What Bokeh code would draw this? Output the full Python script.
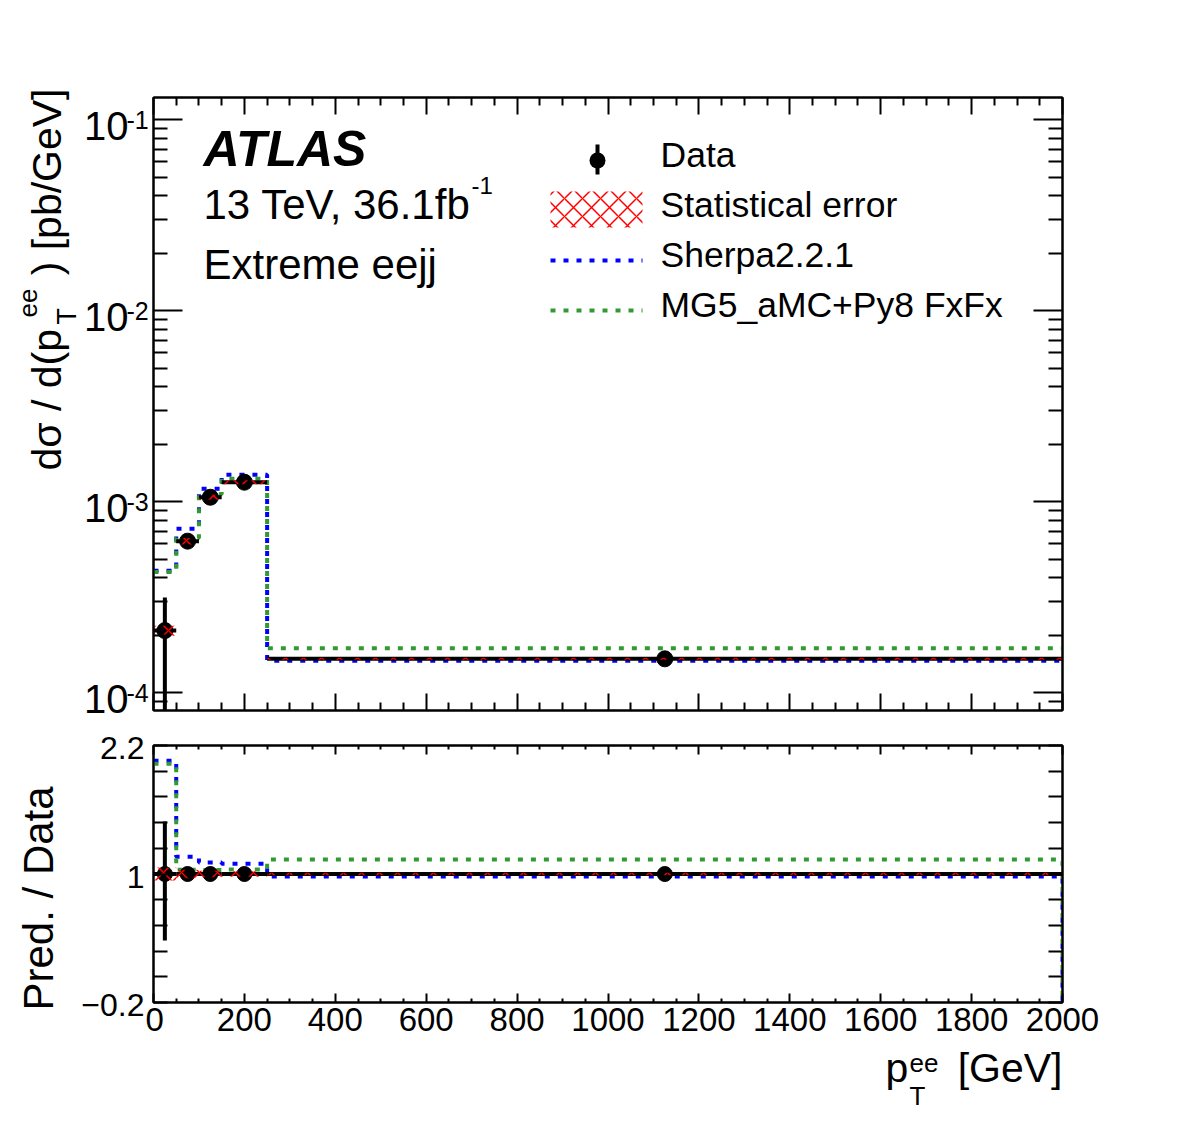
import math
from bokeh.plotting import figure
from bokeh.layouts import column, row
from bokeh.models import (FixedTicker, LinearAxis, LogAxis, Label, BoxAnnotation,
                          Arrow, Range1d)
from bokeh.embed import file_html
from bokeh.resources import INLINE

FONT = "Liberation Sans"
BLUE = "#0000ff"
GREEN = "#339933"
RED = "#ff0000"
DASH = "5 8"

# ---- binning and cross sections (pb/GeV) ----
bin_edges = [0, 50, 100, 150, 250, 2000]
data_xsec = [2.11e-4, 6.20e-4, 1.053e-3, 1.262e-3, 1.501e-4]
data_err_up = [0.49, 0.05, 0.04, 0.04, 0.04]      # relative total uncertainty (up)
data_err_dn = [0.62, 0.05, 0.04, 0.04, 0.04]      # relative total uncertainty (down)
stat_err = [0.06, 0.04, 0.03, 0.025, 0.012]       # relative statistical uncertainty
sherpa_xsec = [4.34e-4, 7.20e-4, 1.165e-3, 1.382e-3, 1.465e-4]
mg5_xsec = [4.28e-4, 6.45e-4, 1.092e-3, 1.315e-3, 1.703e-4]

# ---- ticks and labels ----
x_ticks = [0, 200, 400, 600, 800, 1000, 1200, 1400, 1600, 1800, 2000]
x_minor_ticks = [v for v in range(50, 2000, 50) if v % 200]
y_decades = [1e-4, 1e-3, 1e-2, 1e-1]
y_decade_exponents = ["-4", "-3", "-2", "-1"]
y_minor_ticks = [m * d for d in [1e-5, 1e-4, 1e-3, 1e-2, 1e-1] for m in range(2, 10)]
ratio_ticks = [round(-0.2 + 0.24 * k, 2) for k in range(11)]
ratio_labelled = [-0.2, 1.0, 2.2]
ratio_label_text = ["\u22120.2", "1", "2.2"]
legend_labels = ["Data", "Statistical error", "Sherpa2.2.1", "MG5_aMC+Py8 FxFx"]

# ---- page geometry (pixels) ----
PAGE_W, PAGE_H = 1182, 1123
FRAME_L, FRAME_R = 153, 1062
TOP_T, TOP_B = 97, 710
BOT_T, BOT_B = 745, 1002
ROW1_H = 728                       # main panel row
BOT_BORDER_T, BOT_BORDER_B = BOT_T - ROW1_H, 42
ROW2_H = BOT_BORDER_T + (BOT_B - BOT_T) + BOT_BORDER_B
ROW3_H = PAGE_H - ROW1_H - ROW2_H  # x-axis title strip
STRIP1_W, STRIP2_W = 150, 145      # left strips holding the y-axis texts
Y_MIN, Y_MAX = 8.05e-5, 0.1304
R_MIN, R_MAX = -0.2, 2.2
DESC = 0.14                        # baseline sits this fraction of the size above the box bottom

centers = [(a + b) / 2 for a, b in zip(bin_edges[:-1], bin_edges[1:])]
lefts = bin_edges[:-1]
rights = bin_edges[1:]


def step_xy(values, drop_to=None):
    xs, ys = [], []
    for lo, hi, v in zip(lefts, rights, values):
        xs += [lo, hi]
        ys += [v, v]
    if drop_to is not None:
        xs.append(bin_edges[-1])
        ys.append(drop_to)
    return xs, ys


def style_axis(ax, tick_in, minor_in, label_size=None):
    ax.major_tick_in = tick_in
    ax.major_tick_out = 0
    ax.minor_tick_in = minor_in
    ax.minor_tick_out = 0
    ax.major_tick_line_width = 2
    ax.minor_tick_line_width = 2
    ax.major_tick_line_color = "black"
    ax.minor_tick_line_color = "black"
    ax.axis_line_color = "black"
    ax.axis_line_width = 2
    if label_size is None:
        # tick marks only
        ax.major_label_text_font_size = "1px"
        ax.major_label_text_color = None
        ax.major_label_standoff = 0
    else:
        ax.major_label_text_font_size = f"{label_size}px"
        ax.major_label_text_font = FONT
        ax.major_label_text_color = "black"


def text(fig, s, x, y, size, xu="screen", yu="screen", angle=0.0, y_off=0.0,
         style="normal", **kw):
    # (x, y) is the start (or end) of the text's baseline
    drop = DESC * size
    x_off = drop if angle else 0.0
    if not angle:
        y_off -= drop
    fig.add_layout(Label(x=x, y=y, x_units=xu, y_units=yu, text=s, angle=angle,
                         x_offset=x_off, y_offset=y_off,
                         text_font=FONT, text_font_size=f"{size}px",
                         text_font_style=style, text_baseline="bottom",
                         text_color="black", **kw))


def strip(w, h, x_range, y_range, y_axis_type="linear"):
    f = figure(frame_width=w, frame_height=h, min_border=0,
               x_range=x_range, y_range=y_range, y_axis_type=y_axis_type,
               x_axis_location=None, y_axis_location=None,
               output_backend="svg", toolbar_location=None)
    f.frame_align = False
    f.grid.visible = False
    f.outline_line_color = None
    f.background_fill_color = "white"
    f.border_fill_color = "white"
    return f


# ================= main panel =================
top = figure(frame_width=FRAME_R - FRAME_L, frame_height=TOP_B - TOP_T,
             min_border_left=FRAME_L - STRIP1_W, min_border_right=PAGE_W - FRAME_R,
             min_border_top=TOP_T, min_border_bottom=ROW1_H - TOP_B,
             x_range=Range1d(0, 2000), y_range=Range1d(Y_MIN, Y_MAX),
             y_axis_type="log", output_backend="svg", toolbar_location=None)
top.frame_align = False
top.grid.visible = False
top.outline_line_color = "black"
top.outline_line_width = 2
top.outline_line_alpha = 1
top.background_fill_color = "white"
top.border_fill_color = "white"

xt = FixedTicker(ticks=x_ticks, minor_ticks=x_minor_ticks)
yt = FixedTicker(ticks=y_decades, minor_ticks=y_minor_ticks)
top.xaxis.ticker = xt
top.yaxis.ticker = yt
style_axis(top.xaxis[0], 17, 8)
style_axis(top.yaxis[0], 29, 14)
ax_top = LinearAxis(ticker=xt)
style_axis(ax_top, 17, 8)
top.add_layout(ax_top, "above")
ax_right = LogAxis(ticker=yt)
style_axis(ax_right, 29, 14)
top.add_layout(ax_right, "right")

# predictions
for vals, col in [(sherpa_xsec, BLUE), (mg5_xsec, GREEN)]:
    xs, ys = step_xy(vals)
    top.line(xs, ys, line_color=col, line_width=4, line_dash=DASH)

# data
top.segment(x0=lefts, x1=rights, y0=data_xsec, y1=data_xsec,
            line_color="black", line_width=4)
top.segment(x0=centers, x1=centers,
            y0=[v * (1 - e) for v, e in zip(data_xsec, data_err_dn)],
            y1=[v * (1 + e) for v, e in zip(data_xsec, data_err_up)],
            line_color="black", line_width=4)
top.scatter(centers, data_xsec, size=16, marker="circle",
            fill_color="black", line_color="black")

# statistical band
top.quad(left=lefts, right=rights,
         bottom=[v * (1 - e) for v, e in zip(data_xsec, stat_err)],
         top=[v * (1 + e) for v, e in zip(data_xsec, stat_err)],
         fill_color=None, line_color=None,
         hatch_pattern="x", hatch_color=RED, hatch_scale=18, hatch_weight=1.5)


def fx(px):
    return px - FRAME_L


def fy1(py):
    return TOP_B - py


# experiment labels
text(top, "ATLAS", fx(203), fy1(169), 50, style="bold italic")
text(top, "13 TeV, 36.1fb", fx(203), fy1(222), 42)
text(top, "-1", fx(471), fy1(190), 24)
text(top, "Extreme eejj", fx(203), fy1(282), 42)

# legend
top.add_layout(BoxAnnotation(left=fx(589), right=fx(605), bottom=fy1(168), top=fy1(152),
                             left_units="screen", right_units="screen",
                             bottom_units="screen", top_units="screen",
                             fill_color="black", fill_alpha=1, line_color=None,
                             border_radius=8))
top.add_layout(Arrow(x_start=fx(597), y_start=fy1(174), x_end=fx(597), y_end=fy1(144),
                     start_units="screen", end_units="screen", end=None,
                     line_color="black", line_width=4))
top.add_layout(BoxAnnotation(left=fx(550), right=fx(642), bottom=fy1(227), top=fy1(191),
                             left_units="screen", right_units="screen",
                             bottom_units="screen", top_units="screen",
                             fill_color=None, line_color=None,
                             hatch_pattern="x", hatch_color=RED, hatch_scale=18,
                             hatch_weight=1.5))
for yrow, col in [(260, BLUE), (310, GREEN)]:
    top.add_layout(Arrow(x_start=fx(550), y_start=fy1(yrow), x_end=fx(642), y_end=fy1(yrow),
                         start_units="screen", end_units="screen", end=None,
                         line_color=col, line_width=4, line_dash=DASH))
for lab, base in zip(legend_labels, [170, 220, 270, 320]):
    text(top, lab, fx(660), fy1(base), 35.5)

# ---- left strip of the main panel: decade labels and y title ----
lg_top, lg_bot = math.log10(Y_MAX), math.log10(Y_MIN)


def lg_at(py):
    return lg_top - (py - TOP_T) / (TOP_B - TOP_T) * (lg_top - lg_bot)


left1 = strip(STRIP1_W, ROW1_H, Range1d(0, STRIP1_W),
              Range1d(10 ** lg_at(ROW1_H), 10 ** lg_at(0)), y_axis_type="log")
for d, e in zip(y_decades, y_decade_exponents):
    text(left1, "10", 128, d, 40, yu="data", text_align="right", y_off=-15)
    text(left1, e, 126, d, 25, yu="data", text_align="left", y_off=-6)


def sy1(py):
    return ROW1_H - py


text(left1, "d\u03c3 / d(p", 64, sy1(470), 41, angle=math.pi / 2, text_align="left")
text(left1, "T", 78, sy1(324), 27, angle=math.pi / 2, text_align="left")
text(left1, "ee", 33, sy1(317), 26, angle=math.pi / 2, text_align="left")
text(left1, ") [pb/GeV]", 64, sy1(88), 41, angle=math.pi / 2, text_align="right")

# ================= ratio panel =================
bot = figure(frame_width=FRAME_R - FRAME_L, frame_height=BOT_B - BOT_T,
             min_border_left=FRAME_L - STRIP2_W, min_border_right=PAGE_W - FRAME_R,
             min_border_top=BOT_BORDER_T, min_border_bottom=BOT_BORDER_B,
             x_range=Range1d(0, 2000), y_range=Range1d(R_MIN, R_MAX),
             output_backend="svg", toolbar_location=None)
bot.frame_align = False
bot.grid.visible = False
bot.outline_line_color = "black"
bot.outline_line_width = 2
bot.outline_line_alpha = 1
bot.background_fill_color = "white"
bot.border_fill_color = "white"

rt = FixedTicker(ticks=ratio_ticks, minor_ticks=[])
bot.xaxis.ticker = xt
bot.yaxis.ticker = rt
style_axis(bot.xaxis[0], 9, 4, label_size=33)
bot.xaxis[0].major_label_standoff = 5
style_axis(bot.yaxis[0], 14, 7)
bx_top = LinearAxis(ticker=xt)
style_axis(bx_top, 9, 4)
bot.add_layout(bx_top, "above")
by_right = LinearAxis(ticker=rt)
style_axis(by_right, 14, 7)
bot.add_layout(by_right, "right")

for vals, col in [(sherpa_xsec, BLUE), (mg5_xsec, GREEN)]:
    ratio = [p / d for p, d in zip(vals, data_xsec)]
    xs, ys = step_xy(ratio, drop_to=-0.5)
    bot.line(xs, ys, line_color=col, line_width=4, line_dash=DASH)

ones = [1.0] * len(data_xsec)
bot.segment(x0=lefts, x1=rights, y0=ones, y1=ones, line_color="black", line_width=4)
bot.segment(x0=centers, x1=centers,
            y0=[1 - e for e in data_err_dn], y1=[1 + e for e in data_err_up],
            line_color="black", line_width=4)
bot.scatter(centers, ones, size=15, marker="circle", fill_color="black", line_color="black")
bot.quad(left=lefts, right=rights,
         bottom=[1 - e for e in stat_err], top=[1 + e for e in stat_err],
         fill_color=None, line_color=None,
         hatch_pattern="x", hatch_color=RED, hatch_scale=18, hatch_weight=1.5)

# ---- left strip of the ratio panel ----
per_px = (R_MAX - R_MIN) / (BOT_B - BOT_T)
left2 = strip(STRIP2_W, ROW2_H, Range1d(0, STRIP2_W),
              Range1d(R_MAX - (ROW1_H + ROW2_H - BOT_T) * per_px,
                      R_MAX + (BOT_T - ROW1_H) * per_px))
for v, s in zip(ratio_labelled, ratio_label_text):
    text(left2, s, STRIP2_W - 1, v, 32, yu="data", text_align="right", y_off=-9.5)
text(left2, "Pred. / Data", 56, ROW1_H + ROW2_H - 1010, 42, angle=math.pi / 2,
     text_align="left")

# ---- x-axis title strip ----
xtitle = strip(PAGE_W, ROW3_H, Range1d(0, PAGE_W), Range1d(0, ROW3_H))


def sy3(py):
    return PAGE_H - py


text(xtitle, "p", 885, sy3(1085), 41, text_align="left")
text(xtitle, "T", 909, sy3(1107), 26, text_align="left")
text(xtitle, "ee", 909, sy3(1068), 26, text_align="left")
text(xtitle, "[GeV]", FRAME_R, sy3(1085), 41, text_align="right")

page = column(row(left1, top, spacing=0), row(left2, bot, spacing=0), xtitle, spacing=0)
open("out.html", "w").write(file_html(page, INLINE))
